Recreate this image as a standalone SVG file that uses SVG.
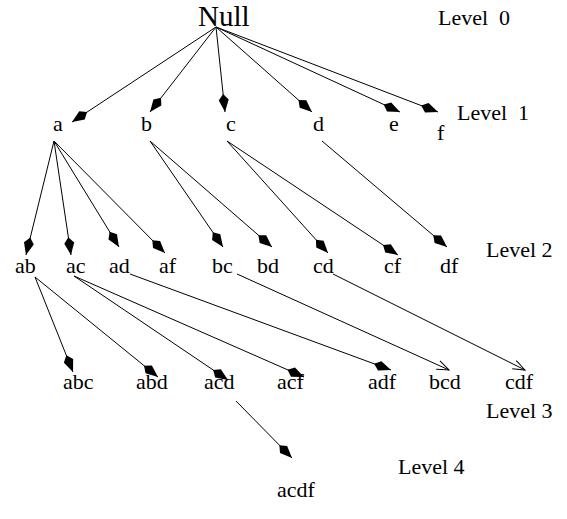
<svg xmlns="http://www.w3.org/2000/svg" width="567" height="519" viewBox="0 0 567 519">
<style>
text{font-family:"Liberation Serif","Tinos","Times New Roman","DejaVu Serif",serif;font-size:22px;fill:#000}
.root{font-size:29px}
.e{stroke:#000;stroke-width:1;fill:none}
.f{marker-end:url(#fa)}
.o{marker-end:url(#oa)}
</style>
<defs>
<marker id="fa" markerUnits="userSpaceOnUse" orient="auto" refX="0" refY="0" markerWidth="22" markerHeight="14" viewBox="-20 -7 22 14" overflow="visible">
<path d="M0,0 L-12,-5 L-18,0 L-12,5 Z" fill="#000"/>
</marker>
<marker id="oa" markerUnits="userSpaceOnUse" orient="auto" refX="0" refY="0" markerWidth="22" markerHeight="14" viewBox="-20 -7 22 14" overflow="visible">
<path d="M-12,-4.5 L0,0 L-12,4.5" fill="none" stroke="#000" stroke-width="1"/>
</marker>
</defs>
<rect width="567" height="519" fill="#fff"/>
<g id="connectors">
<line class="e f" x1="216" y1="27" x2="72" y2="122"/>
<line class="e f" x1="216" y1="27" x2="150" y2="112"/>
<line class="e f" x1="216" y1="27" x2="225" y2="112"/>
<line class="e f" x1="216" y1="27" x2="312" y2="112"/>
<line class="e f" x1="216" y1="27" x2="400" y2="112"/>
<line class="e f" x1="216" y1="27" x2="438" y2="112"/>
<line class="e f" x1="54" y1="141" x2="26" y2="255"/>
<line class="e f" x1="54" y1="141" x2="71" y2="255"/>
<line class="e f" x1="54" y1="141" x2="119" y2="247"/>
<line class="e f" x1="54" y1="141" x2="165" y2="253"/>
<line class="e f" x1="150" y1="141" x2="223" y2="247"/>
<line class="e f" x1="150" y1="141" x2="272" y2="247"/>
<line class="e f" x1="227" y1="141" x2="328" y2="253"/>
<line class="e f" x1="227" y1="141" x2="398" y2="255"/>
<line class="e f" x1="322" y1="141" x2="447" y2="247"/>
<line class="e f" x1="35" y1="277" x2="73" y2="372"/>
<line class="e f" x1="35" y1="277" x2="158" y2="377"/>
<line class="e f" x1="74" y1="276" x2="228" y2="380"/>
<line class="e f" x1="74" y1="276" x2="304" y2="377"/>
<line class="e f" x1="130" y1="274" x2="391" y2="370"/>
<line class="e o" x1="237" y1="274" x2="449" y2="370"/>
<line class="e o" x1="333" y1="274" x2="525" y2="370"/>
<line class="e f" x1="236" y1="401" x2="292" y2="458"/>
</g>
<g id="labels">
<text x="438" y="25" xml:space="preserve">Level  0</text>
<text x="457" y="120" xml:space="preserve">Level  1</text>
<text x="486" y="257">Level 2</text>
<text x="486" y="418">Level 3</text>
<text x="398" y="474">Level 4</text>
</g>
<g id="n-null"><text class="root" x="198" y="26">Null</text></g>
<g id="n-a"><text x="53" y="131">a</text></g>
<g id="n-b"><text x="141" y="131">b</text></g>
<g id="n-c"><text x="226" y="131">c</text></g>
<g id="n-d"><text x="313" y="131">d</text></g>
<g id="n-e"><text x="389" y="131">e</text></g>
<g id="n-f"><text x="437" y="140">f</text></g>
<g id="n-ab"><text x="15" y="273">ab</text></g>
<g id="n-ac"><text x="66" y="273">ac</text></g>
<g id="n-ad"><text x="109" y="273">ad</text></g>
<g id="n-af"><text x="159" y="273">af</text></g>
<g id="n-bc"><text x="212" y="273">bc</text></g>
<g id="n-bd"><text x="257" y="273">bd</text></g>
<g id="n-cd"><text x="313" y="273">cd</text></g>
<g id="n-cf"><text x="384" y="273">cf</text></g>
<g id="n-df"><text x="440" y="273">df</text></g>
<g id="n-abc"><text x="63" y="389">abc</text></g>
<g id="n-abd"><text x="136" y="389">abd</text></g>
<g id="n-acd"><text x="204" y="389">acd</text></g>
<g id="n-acf"><text x="277" y="389">acf</text></g>
<g id="n-adf"><text x="368" y="389">adf</text></g>
<g id="n-bcd"><text x="429" y="389">bcd</text></g>
<g id="n-cdf"><text x="505" y="389">cdf</text></g>
<g id="n-acdf"><text x="277" y="497">acdf</text></g>
</svg>
